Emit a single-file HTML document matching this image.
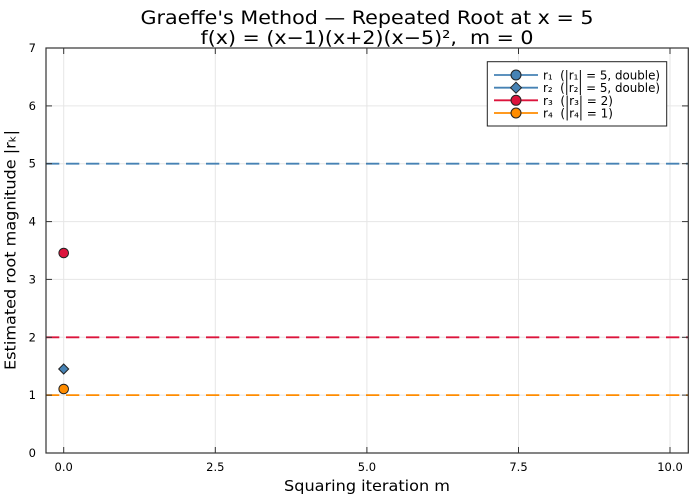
<!DOCTYPE html>
<html><head><meta charset="utf-8"><style>
html,body{margin:0;padding:0;background:#fff;}
svg{display:block;}
text{font-family:"DejaVu Sans","Liberation Sans",sans-serif;fill:#000;white-space:pre;}
</style></head><body>
<svg width="700" height="500" viewBox="0 0 700 500" xmlns="http://www.w3.org/2000/svg" xml:space="preserve">
<rect width="700" height="500" fill="#fff"/>
<g stroke="#e6e6e6" stroke-width="1">
<line x1="63.7" y1="48" x2="63.7" y2="453"/>
<line x1="215.3" y1="48" x2="215.3" y2="453"/>
<line x1="366.9" y1="48" x2="366.9" y2="453"/>
<line x1="518.5" y1="48" x2="518.5" y2="453"/>
<line x1="670" y1="48" x2="670" y2="453"/>
<line x1="46" y1="395.1" x2="688" y2="395.1"/>
<line x1="46" y1="337.3" x2="688" y2="337.3"/>
<line x1="46" y1="279.4" x2="688" y2="279.4"/>
<line x1="46" y1="221.6" x2="688" y2="221.6"/>
<line x1="46" y1="163.7" x2="688" y2="163.7"/>
<line x1="46" y1="105.9" x2="688" y2="105.9"/>
</g>
<g stroke-width="1.8" stroke-dasharray="13.3 6.7" fill="none">
<line x1="46" y1="163.7" x2="688" y2="163.7" stroke="#4682b4"/>
<line x1="46" y1="337.3" x2="688" y2="337.3" stroke="#dc143c"/>
<line x1="46" y1="395.1" x2="688" y2="395.1" stroke="#ff8c00"/>
</g>
<rect x="46" y="48" width="642.3" height="405" fill="none" stroke="#333" stroke-width="1.2"/>
<g stroke="#333" stroke-width="1">
<line x1="63.7" y1="453" x2="63.7" y2="447"/><line x1="215.3" y1="453" x2="215.3" y2="447"/><line x1="366.9" y1="453" x2="366.9" y2="447"/><line x1="518.5" y1="453" x2="518.5" y2="447"/><line x1="670" y1="453" x2="670" y2="447"/>
<line x1="63.7" y1="48" x2="63.7" y2="54"/><line x1="215.3" y1="48" x2="215.3" y2="54"/><line x1="366.9" y1="48" x2="366.9" y2="54"/><line x1="518.5" y1="48" x2="518.5" y2="54"/><line x1="670" y1="48" x2="670" y2="54"/>
<line x1="46" y1="395.1" x2="52" y2="395.1"/><line x1="46" y1="337.3" x2="52" y2="337.3"/><line x1="46" y1="279.4" x2="52" y2="279.4"/><line x1="46" y1="221.6" x2="52" y2="221.6"/><line x1="46" y1="163.7" x2="52" y2="163.7"/><line x1="46" y1="105.9" x2="52" y2="105.9"/>
<line x1="688" y1="395.1" x2="682" y2="395.1"/><line x1="688" y1="337.3" x2="682" y2="337.3"/><line x1="688" y1="279.4" x2="682" y2="279.4"/><line x1="688" y1="221.6" x2="682" y2="221.6"/><line x1="688" y1="163.7" x2="682" y2="163.7"/><line x1="688" y1="105.9" x2="682" y2="105.9"/>
</g>
<g font-size="11.5" text-anchor="middle">
<text x="63.7" y="471">0.0</text><text x="215.3" y="471">2.5</text><text x="366.9" y="471">5.0</text><text x="518.5" y="471">7.5</text><text x="670" y="471">10.0</text>
</g>
<g font-size="11.5" text-anchor="end">
<text x="36" y="457">0</text><text x="36" y="399">1</text><text x="36" y="341.3">2</text><text x="36" y="283.4">3</text><text x="36" y="225.6">4</text><text x="36" y="167.7">5</text><text x="36" y="109.9">6</text><text x="36" y="52">7</text>
</g>
<text x="367" y="491" font-size="15" text-anchor="middle" textLength="166" lengthAdjust="spacingAndGlyphs">Squaring iteration m</text>
<text transform="translate(15.5,250) rotate(-90)" font-size="15" text-anchor="middle" textLength="240" lengthAdjust="spacingAndGlyphs">Estimated root magnitude |rₖ|</text>
<text x="367" y="24" font-size="19" text-anchor="middle" textLength="453" lengthAdjust="spacingAndGlyphs">Graeffe's Method — Repeated Root at x = 5</text>
<text x="367" y="44" font-size="19" text-anchor="middle" textLength="333" lengthAdjust="spacingAndGlyphs">f(x) = (x−1)(x+2)(x−5)²,  m = 0</text>
<circle cx="63.7" cy="253" r="4.8" fill="#dc143c" stroke="#222" stroke-width="1"/>
<polygon points="63.7,364 68.7,369 63.7,374 58.7,369" fill="#4682b4" stroke="#222" stroke-width="1"/>
<circle cx="63.7" cy="389" r="4.8" fill="#ff8c00" stroke="#222" stroke-width="1"/>
<rect x="487.3" y="61.7" width="179.4" height="64.3" fill="#fff" stroke="#222" stroke-width="1"/>
<g stroke-width="1.8">
<line x1="494" y1="75" x2="538" y2="75" stroke="#4682b4"/>
<line x1="494" y1="87.7" x2="538" y2="87.7" stroke="#4682b4"/>
<line x1="494" y1="100.3" x2="538" y2="100.3" stroke="#dc143c"/>
<line x1="494" y1="113" x2="538" y2="113" stroke="#ff8c00"/>
</g>
<circle cx="516" cy="75" r="5" fill="#4682b4" stroke="#222" stroke-width="1"/>
<polygon points="516,82.2 521.5,87.7 516,93.2 510.5,87.7" fill="#4682b4" stroke="#222" stroke-width="1"/>
<circle cx="516" cy="100.3" r="5" fill="#dc143c" stroke="#222" stroke-width="1"/>
<circle cx="516" cy="113" r="5" fill="#ff8c00" stroke="#222" stroke-width="1"/>
<g font-size="12">
<text x="543" y="79.5" textLength="117" lengthAdjust="spacingAndGlyphs">r₁  (|r₁| = 5, double)</text>
<text x="543" y="92.2" textLength="117" lengthAdjust="spacingAndGlyphs">r₂  (|r₂| = 5, double)</text>
<text x="543" y="104.8" textLength="70" lengthAdjust="spacingAndGlyphs">r₃  (|r₃| = 2)</text>
<text x="543" y="117.5" textLength="70" lengthAdjust="spacingAndGlyphs">r₄  (|r₄| = 1)</text>
</g>
</svg>
</body></html>
